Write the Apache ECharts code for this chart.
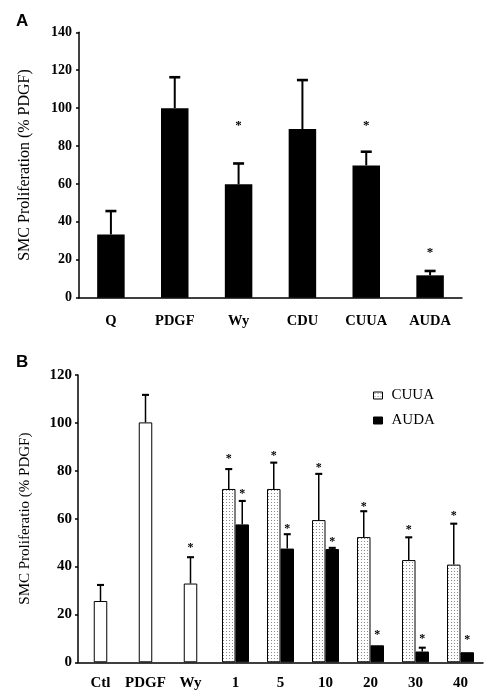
<!DOCTYPE html>
<html><head><meta charset="utf-8">
<script src="https://cdn.jsdelivr.net/npm/echarts@6/dist/echarts.min.js"></script>
<style>html,body{margin:0;padding:0;background:#fff}#c{width:494px;height:698px}</style>
</head><body><div id="c"></div>
<script>
// ---------- Panel A data ----------
const catsA = ['Q', 'PDGF', 'Wy', 'CDU', 'CUUA', 'AUDA'];
const valsA = [33.4, 100, 59.8, 89, 69.8, 11.8];
const errTopA = [45.7, 116.3, 70.8, 114.8, 77, 14.1];
const starA = [null, null, 93, null, 93, 26];
const yMinA = 0, yMaxA = 140, yStepA = 20;

// ---------- Panel B data ----------
const catsB = ['Ctl', 'PDGF', 'Wy', '1', '5', '10', '20', '30', '40'];
const ctrlB = [25.6, 100.2, 32.9, null, null, null, null, null, null];
const ctrlErrTopB = [32.3, 111.7, 43.9, null, null, null, null, null, null];
const ctrlStarB = [null, null, 49.4, null, null, null, null, null, null];
const cuuaB = [null, null, null, 72.4, 72.4, 59.4, 52.3, 42.7, 40.8];
const cuuaErrTopB = [null, null, null, 80.7, 83.4, 78.7, 63.1, 52.2, 57.9];
const cuuaStarB = [null, null, null, 86.3, 87.7, 82.8, 66.4, 57, 62.5];
const audaB = [null, null, null, 57.6, 47.5, 47.3, 7.1, 4.5, 4.2];
const audaErrTopB = [null, null, null, 67.4, 53.5, 47.8, 7.2, 6.1, 4.2];
const audaStarB = [null, null, null, 72, 57.4, 51.8, 12.8, 11.4, 10.7];
const yMinB = 0, yMaxB = 120, yStepB = 20;

const SERIF = 'Liberation Serif';

// dotted pattern
const pat = document.createElement('canvas');
pat.width = 3; pat.height = 3;
(function () {
  const g = pat.getContext('2d');
  g.fillStyle = '#fff'; g.fillRect(0, 0, 3, 3);
  g.fillStyle = '#8a8a8a'; g.fillRect(1, 1, 1, 1);
})();

function errData(vals, tops, stars) {
  const out = [];
  vals.forEach((v, i) => {
    if (v == null) return;
    out.push([i, tops[i], v, stars[i] == null ? -1 : stars[i]]);
  });
  return out;
}

function errRender(offset, cap, lw, starSize) {
  return function (params, api) {
    const i = api.value(0), top = api.value(1), base = api.value(2), star = api.value(3);
    const p0 = api.coord([i, base]);
    const p1 = api.coord([i, top]);
    const x = p0[0] + offset;
    const ch = [];
    if (top > base + 0.15) {
      ch.push({ type: 'line', shape: { x1: x, y1: p0[1], x2: x, y2: p1[1] }, style: { stroke: '#000', lineWidth: lw } });
      ch.push({ type: 'line', shape: { x1: x - cap / 2, y1: p1[1], x2: x + cap / 2, y2: p1[1] }, style: { stroke: '#000', lineWidth: lw + 0.6 } });
    }
    if (star >= 0) {
      const ps = api.coord([i, star]);
      ch.push({ type: 'text', x: x, y: ps[1] + starSize * 0.3, style: { text: '*', fill: '#000', font: 'bold ' + starSize + 'px ' + SERIF, align: 'center', verticalAlign: 'middle' } });
    }
    return { type: 'group', children: ch };
  };
}

const yAxisCommon = {
  type: 'value',
  axisLine: { show: true, lineStyle: { color: '#000', width: 1.5 } },
  axisTick: { show: true, length: 3, lineStyle: { color: '#000', width: 1.5 } },
  splitLine: { show: false },
  nameLocation: 'middle',
  nameRotate: 90
};

const chart = echarts.init(document.getElementById('c'), null, { renderer: 'canvas' });
chart.setOption({
  animation: false,
  backgroundColor: '#fff',
  grid: [
    { left: 79, top: 32.3, width: 383, height: 265.4 },
    { left: 78, top: 375, width: 405, height: 287.3 }
  ],
  graphic: [
    { type: 'text', left: 16, top: 13, style: { text: 'A', font: 'bold 17px Liberation Sans', fill: '#000' } },
    { type: 'text', left: 16, top: 354, style: { text: 'B', font: 'bold 17px Liberation Sans', fill: '#000' } }
  ],
  legend: {
    data: ['CUUA', 'AUDA'],
    orient: 'vertical',
    left: 368, top: 383,
    icon: 'rect',
    itemWidth: 9, itemHeight: 7, itemGap: 10,
    itemStyle: { borderColor: '#000', borderWidth: 1 },
    textStyle: { fontFamily: SERIF, fontSize: 15, color: '#000', padding: [0, 0, 0, 4] }
  },
  xAxis: [
    {
      type: 'category', gridIndex: 0, data: catsA,
      axisLine: { lineStyle: { color: '#000', width: 1.5 } },
      axisTick: { show: false },
      axisLabel: { interval: 0, fontFamily: SERIF, fontWeight: 'bold', fontSize: 14.5, color: '#000', margin: 16 }
    },
    {
      type: 'category', gridIndex: 1, data: catsB,
      axisLine: { lineStyle: { color: '#000', width: 1.5 } },
      axisTick: { show: false },
      axisLabel: { interval: 0, fontFamily: SERIF, fontWeight: 'bold', fontSize: 15, color: '#000', margin: 13 }
    },
    { type: 'category', gridIndex: 1, data: catsB, show: false }
  ],
  yAxis: [
    Object.assign({}, yAxisCommon, {
      gridIndex: 0, min: yMinA, max: yMaxA, interval: yStepA,
      name: 'SMC Proliferation (% PDGF)', nameGap: 46,
      nameTextStyle: { fontFamily: SERIF, fontSize: 16, color: '#000' },
      axisLabel: { fontFamily: SERIF, fontWeight: 'bold', fontSize: 14, color: '#000', margin: 7 }
    }),
    Object.assign({}, yAxisCommon, {
      gridIndex: 1, min: yMinB, max: yMaxB, interval: yStepB,
      name: 'SMC Proliferatio (% PDGF)', nameGap: 45,
      nameTextStyle: { fontFamily: SERIF, fontSize: 15, color: '#000' },
      axisLabel: { fontFamily: SERIF, fontWeight: 'bold', fontSize: 15, color: '#000', margin: 6 }
    })
  ],
  series: [
    {
      type: 'bar', xAxisIndex: 0, yAxisIndex: 0, data: valsA, barWidth: 27.5,
      itemStyle: { color: '#000' }
    },
    {
      type: 'custom', xAxisIndex: 0, yAxisIndex: 0, clip: false, z: 5,
      renderItem: errRender(0, 11, 2, 13), data: errData(valsA, errTopA, starA)
    },
    {
      name: 'Control', type: 'bar', xAxisIndex: 2, yAxisIndex: 1, data: ctrlB, barWidth: 13.5,
      itemStyle: { color: '#fff', borderColor: '#000', borderWidth: 1 }
    },
    {
      name: 'CUUA', type: 'bar', xAxisIndex: 1, yAxisIndex: 1, data: cuuaB, barWidth: 13.5, barGap: 0,
      itemStyle: { color: { image: pat, repeat: 'repeat' }, borderColor: '#000', borderWidth: 1 }
    },
    {
      name: 'AUDA', type: 'bar', xAxisIndex: 1, yAxisIndex: 1, data: audaB, barWidth: 13.5, barGap: 0,
      itemStyle: { color: '#000', borderColor: '#000', borderWidth: 1 }
    },
    {
      type: 'custom', xAxisIndex: 1, yAxisIndex: 1, clip: false, z: 5,
      renderItem: errRender(0, 7, 1.5, 12), data: errData(ctrlB, ctrlErrTopB, ctrlStarB)
    },
    {
      type: 'custom', xAxisIndex: 1, yAxisIndex: 1, clip: false, z: 5,
      renderItem: errRender(-6.75, 7, 1.5, 12), data: errData(cuuaB, cuuaErrTopB, cuuaStarB)
    },
    {
      type: 'custom', xAxisIndex: 1, yAxisIndex: 1, clip: false, z: 5,
      renderItem: errRender(6.75, 7, 1.5, 12), data: errData(audaB, audaErrTopB, audaStarB)
    }
  ]
});
</script>
</body></html>
